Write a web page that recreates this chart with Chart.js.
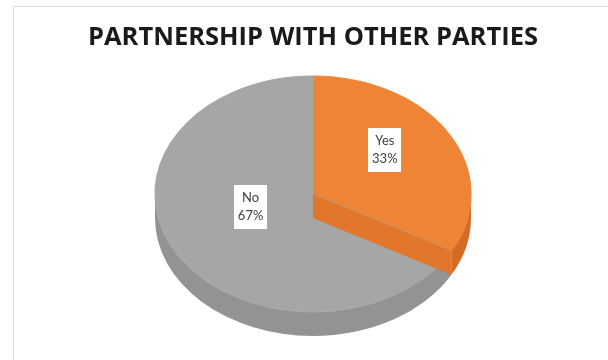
<!DOCTYPE html>
<html>
<head>
<meta charset="utf-8">
<script src="https://cdn.jsdelivr.net/npm/chart.js@4.4.1/dist/chart.umd.min.js"></script>
<style>
  html, body { margin: 0; padding: 0; background: #ffffff; }
  #wrap { position: relative; width: 608px; height: 360px; }
  canvas { display: block; }
</style>
</head>
<body>
<div id="wrap"><canvas id="chart" width="608" height="360"></canvas></div>
<script>
// Survey answers
const categories = ['Yes', 'No'];
const shares = [33, 67];
const chartTitle = 'PARTNERSHIP WITH OTHER PARTIES';

// Face colours: top, outer wall, cut face
const topColors = ['#EE8536', '#A6A6A6'];
const wallColors = ['#D36B25', '#939393'];
const cutColors = ['#E2762A', '#9A9A9A'];

// Tilted-disc look
const DEPTH = 24;            // wall thickness in px
// Label anchor per slice: angular shift from slice middle (deg) and radial fraction
const labelPlacement = [{ turn: -9, r: 0.59 }, { turn: 15, r: 0.41 }];

function discGeometry(chart) {
  const a = chart.chartArea;
  const rx = (a.right - a.left) / 2;
  const ry = (a.bottom - a.top - DEPTH) / 2;
  return { cx: (a.left + a.right) / 2, cy: a.top + ry, rx, ry };
}

// Frame line and heading (the heading is drawn across the whole canvas width)
const framePlugin = {
  id: 'frame',
  beforeDraw(chart) {
    const ctx = chart.ctx;
    ctx.save();
    ctx.strokeStyle = '#dedede';
    ctx.lineWidth = 1;
    ctx.strokeRect(13.5, 6.5, 700, 400);
    ctx.restore();
  },
  afterDraw(chart) {
    const ctx = chart.ctx;
    const a = chart.chartArea;
    ctx.save();
    ctx.font = 'bold 25.5px "Open Sans", Lato, sans-serif';
    ctx.fillStyle = '#1a1a1a';
    ctx.textAlign = 'center';
    ctx.textBaseline = 'middle';
    ctx.fillText(chartTitle, (a.left + a.right) / 2, 38);
    ctx.restore();
  }
};

const tiltPlugin = {
  id: 'tilt',
  beforeDatasetsDraw(chart) {
    const ctx = chart.ctx;
    const meta = chart.getDatasetMeta(0);
    const g = discGeometry(chart);
    // outer walls: only the front half (canvas angles 0..PI) faces the viewer
    meta.data.forEach((arc, i) => {
      const s = arc.startAngle, e = arc.endAngle;
      const TWO = Math.PI * 2;
      [0, -TWO, TWO].forEach(shift => {
        const a1 = Math.max(s + shift, 0);
        const a2 = Math.min(e + shift, Math.PI);
        if (a2 <= a1) return;
        ctx.save();
        ctx.beginPath();
        ctx.ellipse(g.cx, g.cy, g.rx, g.ry, 0, a1, a2, false);
        ctx.ellipse(g.cx, g.cy + DEPTH, g.rx, g.ry, 0, a2, a1, true);
        ctx.closePath();
        ctx.fillStyle = wallColors[i];
        ctx.fill();
        ctx.restore();
      });
    });
    // squash the round pie into the tilted top face
    const arc0 = meta.data[0];
    const R = arc0.outerRadius;
    ctx.save();
    ctx.translate(g.cx, g.cy);
    ctx.scale(g.rx / R, g.ry / R);
    ctx.translate(-arc0.x, -arc0.y);
  },
  afterDatasetsDraw(chart) {
    const ctx = chart.ctx;
    ctx.restore();
    const meta = chart.getDatasetMeta(0);
    const g = discGeometry(chart);
    // cut face of the first slice along its trailing edge
    const arc = meta.data[0];
    const a = arc.endAngle;
    const px = g.cx + g.rx * Math.cos(a);
    const py = g.cy + g.ry * Math.sin(a);
    ctx.save();
    ctx.beginPath();
    ctx.moveTo(g.cx, g.cy);
    ctx.lineTo(px, py);
    ctx.lineTo(px, py + DEPTH);
    ctx.lineTo(g.cx, g.cy + DEPTH);
    ctx.closePath();
    ctx.fillStyle = cutColors[0];
    ctx.fill();
    ctx.restore();

    // data labels in white boxes
    const total = shares.reduce((p, v) => p + v, 0);
    meta.data.forEach((el, i) => {
      const mid = (el.startAngle + el.endAngle) / 2 + labelPlacement[i].turn * Math.PI / 180;
      const lx = g.cx + labelPlacement[i].r * g.rx * Math.cos(mid);
      const ly = g.cy + labelPlacement[i].r * g.ry * Math.sin(mid);
      const lines = [categories[i], Math.round(shares[i] / total * 100) + '%'];
      ctx.save();
      ctx.font = '13px Lato, "Open Sans", sans-serif';
      const w = Math.max(...lines.map(t => ctx.measureText(t).width)) + 8;
      const h = 44;
      ctx.fillStyle = '#ffffff';
      ctx.fillRect(Math.round(lx - w / 2), Math.round(ly - h / 2), Math.round(w), h);
      ctx.fillStyle = '#404040';
      ctx.textAlign = 'center';
      ctx.textBaseline = 'middle';
      ctx.fillText(lines[0], lx, ly - 9);
      ctx.fillText(lines[1], lx, ly + 9);
      ctx.restore();
    });
  }
};

new Chart(document.getElementById('chart'), {
  type: 'pie',
  data: {
    labels: categories,
    datasets: [{
      data: shares,
      backgroundColor: topColors,
      borderColor: topColors,
      borderWidth: 1
    }]
  },
  options: {
    responsive: false,
    animation: false,
    layout: { padding: { top: 76, bottom: 24, left: 155, right: 137 } },
    plugins: {
      legend: { display: false },
      tooltip: { enabled: false },
      title: { display: false }
    }
  },
  plugins: [framePlugin, tiltPlugin]
});
</script>
</body>
</html>
